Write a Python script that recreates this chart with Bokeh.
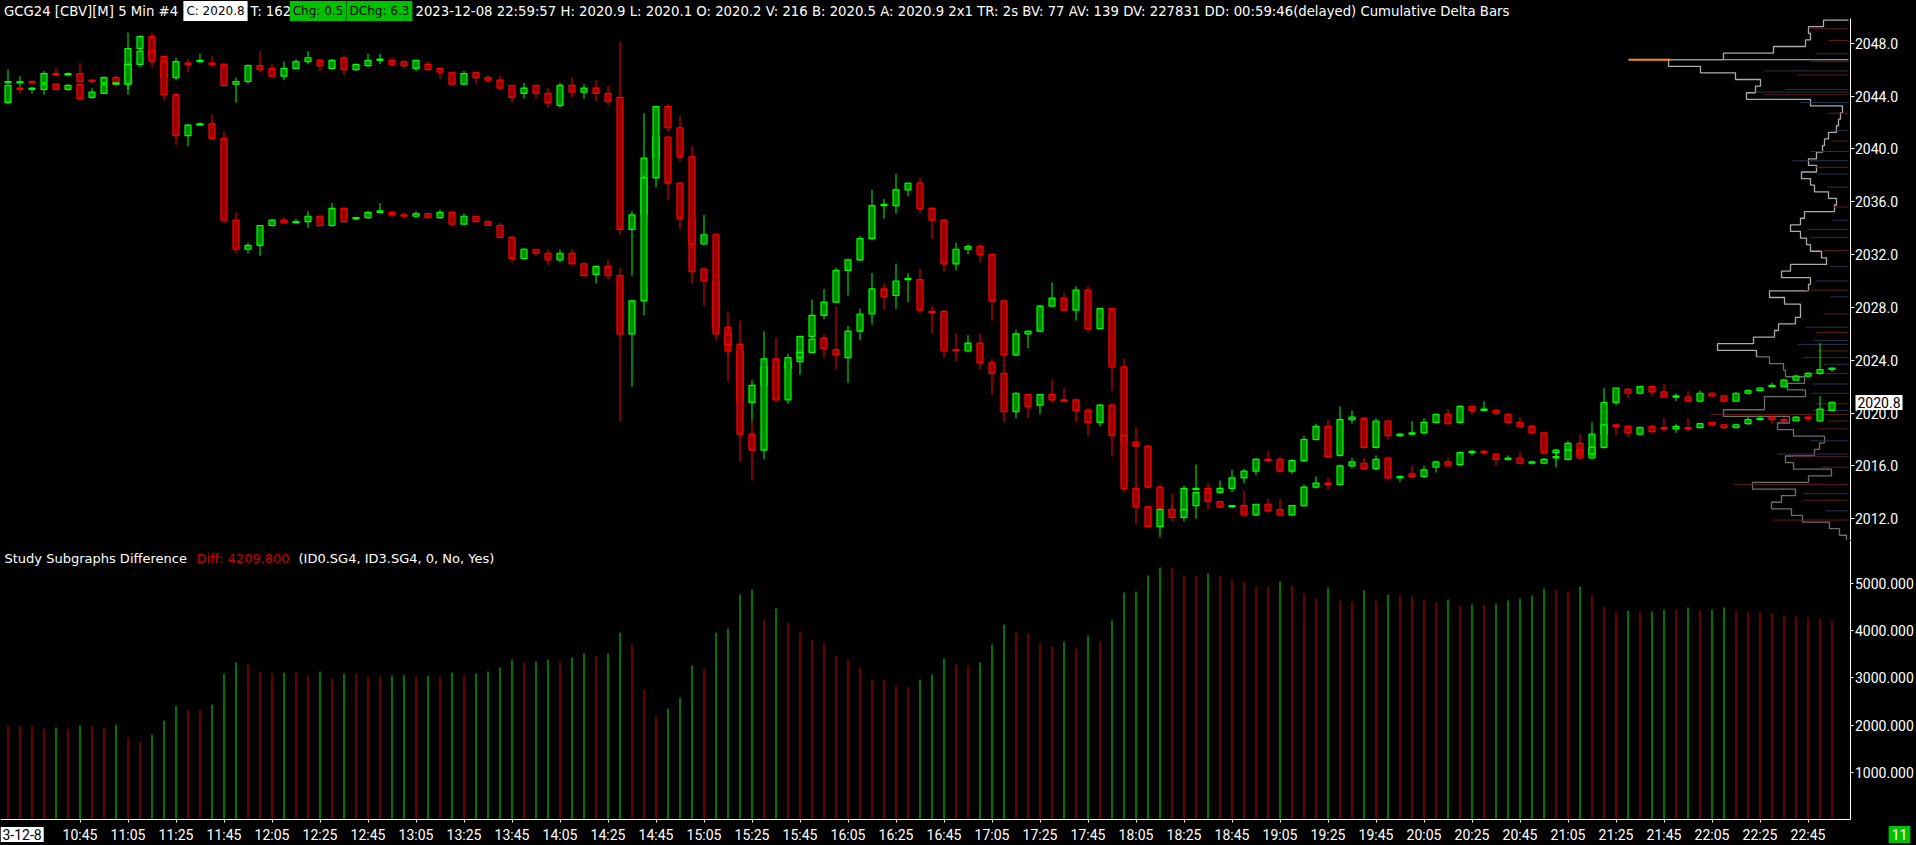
import numpy as np
from bokeh.plotting import figure
from bokeh.layouts import column
from bokeh.models import Range1d, FixedTicker, NumeralTickFormatter, Label, ColumnDataSource, LinearAxis
from bokeh.embed import file_html
from bokeh.resources import INLINE

# ---------------- data ----------------
# overlay candles (upper series)
ovl_open = [2045.0, 2045.0, 2045.1, 2045.0, 2045.7, 2045.6, 2045.7, 2045.2, 2045.0, 2045.4,
            2044.9, 2047.6, 2048.5, 2047.0, 2045.4, 2046.5, 2046.6, 2046.5, 2046.4, 2044.9,
            2045.1, 2046.3, 2046.1, 2045.5, 2046.1, 2046.6, 2046.7, 2046.1, 2046.9, 2046.0,
            2046.3, 2046.7, 2046.7, 2046.6, 2046.1, 2046.4, 2046.1, 2045.8, 2044.9, 2045.8,
            2045.4, 2045.2, 2044.8, 2044.2, 2044.8, 2044.2, 2043.3, 2044.8, 2044.3, 2044.6,
            2044.2, 2043.9, 2033.9, 2035.0, 2039.3, 2040.9, 2037.4, 2034.7, 2030.9, 2030.0,
            2026.5, 2024.7, 2020.8, 2022.1, 2023.5, 2023.4, 2023.9, 2025.8, 2027.4, 2028.4,
            2030.8, 2031.6, 2033.2, 2035.7, 2035.7, 2036.9, 2037.4, 2035.5, 2034.6, 2031.3,
            2032.4, 2032.6, 2032.0, 2028.5, 2024.4, 2026.0, 2026.2, 2028.1, 2028.7, 2027.8,
            2029.3, 2026.4, 2027.9, 2023.5, 2017.8, 2017.5, 2014.4, 2012.7, 2012.5, 2014.2,
            2014.3, 2014.0, 2014.3, 2015.1, 2015.6, 2016.5, 2016.5, 2015.6, 2016.4, 2018.0,
            2019.0, 2016.8, 2019.5, 2019.6, 2017.4, 2019.4, 2018.3, 2018.4, 2018.5, 2019.3,
            2019.9, 2019.3, 2020.5, 2020.2, 2020.2, 2019.9, 2019.3, 2019.0, 2018.5, 2017.0,
            2017.2, 2017.7, 2016.6, 2018.4, 2020.8, 2021.8, 2021.5, 2022.0, 2021.6, 2021.2,
            2021.2, 2020.9, 2021.5, 2021.3, 2020.9, 2021.5, 2021.7, 2022.0, 2022.0, 2022.5,
            2022.8, 2023.0, 2023.3]
ovl_high = [2046.0, 2045.5, 2045.2, 2045.9, 2046.1, 2045.8, 2046.5, 2045.3, 2045.5, 2045.6,
            2048.8, 2048.6, 2048.8, 2047.0, 2046.9, 2046.8, 2047.2, 2047.0, 2046.5, 2045.4,
            2046.4, 2047.4, 2046.4, 2046.6, 2046.8, 2047.4, 2046.8, 2046.8, 2047.1, 2046.4,
            2047.2, 2047.2, 2046.9, 2046.7, 2046.7, 2046.6, 2046.1, 2045.8, 2045.9, 2045.8,
            2045.6, 2045.5, 2044.8, 2045.0, 2044.8, 2044.6, 2045.0, 2045.4, 2044.9, 2045.2,
            2044.8, 2048.1, 2035.3, 2042.7, 2041.0, 2041.0, 2037.5, 2034.7, 2031.0, 2030.0,
            2026.6, 2024.8, 2022.5, 2023.5, 2023.9, 2023.9, 2025.8, 2028.6, 2029.4, 2031.0,
            2031.7, 2033.4, 2036.9, 2036.2, 2038.1, 2037.4, 2037.8, 2035.6, 2034.7, 2032.9,
            2032.8, 2032.8, 2032.1, 2028.5, 2026.3, 2026.2, 2028.2, 2029.9, 2029.1, 2029.6,
            2029.6, 2027.9, 2027.9, 2024.1, 2018.9, 2017.6, 2014.6, 2013.9, 2014.5, 2016.1,
            2014.7, 2014.9, 2015.7, 2015.8, 2016.6, 2017.1, 2016.7, 2016.5, 2018.3, 2019.2,
            2019.5, 2020.5, 2020.2, 2019.7, 2019.6, 2019.5, 2018.5, 2019.4, 2019.6, 2019.9,
            2020.3, 2020.6, 2020.5, 2020.9, 2020.3, 2020.0, 2019.7, 2019.1, 2018.6, 2017.3,
            2017.9, 2018.4, 2019.3, 2021.9, 2021.9, 2021.9, 2022.0, 2022.0, 2022.2, 2021.5,
            2021.7, 2021.7, 2021.6, 2021.3, 2021.6, 2021.8, 2022.0, 2022.3, 2022.6, 2022.9,
            2023.1, 2025.3, 2023.4]
ovl_low = [2044.9, 2044.7, 2044.9, 2044.9, 2045.5, 2045.5, 2045.0, 2044.9, 2045.0, 2044.7,
           2044.1, 2047.4, 2046.9, 2045.4, 2045.2, 2045.8, 2046.5, 2046.2, 2044.8, 2043.5,
           2044.9, 2045.8, 2045.5, 2045.2, 2046.1, 2046.4, 2045.9, 2046.0, 2045.6, 2045.9,
           2046.2, 2046.4, 2046.4, 2046.1, 2045.9, 2046.0, 2045.3, 2044.8, 2044.9, 2044.9,
           2045.0, 2044.6, 2043.5, 2043.8, 2043.8, 2043.1, 2043.1, 2043.9, 2043.8, 2043.6,
           2043.3, 2033.5, 2030.4, 2034.9, 2039.2, 2036.1, 2033.9, 2029.8, 2028.1, 2026.4,
           2022.4, 2020.5, 2019.4, 2022.0, 2023.0, 2023.3, 2022.9, 2025.7, 2027.1, 2028.3,
           2028.9, 2031.5, 2033.1, 2034.7, 2035.1, 2036.4, 2035.1, 2033.2, 2030.7, 2030.8,
           2032.0, 2031.4, 2027.0, 2022.3, 2024.3, 2024.9, 2026.1, 2028.1, 2027.7, 2027.0,
           2026.1, 2026.4, 2021.7, 2017.8, 2013.0, 2014.3, 2012.6, 2012.4, 2012.4, 2014.2,
           2013.9, 2013.9, 2014.0, 2014.7, 2015.3, 2016.3, 2015.5, 2015.4, 2016.3, 2017.9,
           2016.6, 2016.7, 2019.2, 2017.3, 2017.3, 2018.0, 2018.2, 2018.3, 2018.4, 2019.2,
           2019.1, 2019.2, 2019.9, 2020.2, 2019.8, 2019.3, 2019.0, 2018.5, 2016.9, 2016.5,
           2017.2, 2016.5, 2016.5, 2018.3, 2020.6, 2021.1, 2021.4, 2021.3, 2021.2, 2020.9,
           2020.8, 2020.8, 2021.2, 2020.8, 2020.9, 2021.4, 2021.7, 2022.0, 2022.0, 2022.5,
           2022.7, 2022.9, 2023.1]
ovl_close = [2045.1, 2045.1, 2045.0, 2045.7, 2045.6, 2045.7, 2045.1, 2045.1, 2045.4, 2044.9,
             2047.6, 2048.5, 2047.0, 2045.4, 2046.6, 2046.4, 2046.7, 2046.4, 2044.8, 2045.1,
             2046.3, 2046.0, 2045.5, 2046.1, 2046.6, 2046.9, 2046.3, 2046.7, 2046.0, 2046.4,
             2046.7, 2046.8, 2046.4, 2046.3, 2046.7, 2046.0, 2045.8, 2044.9, 2045.7, 2045.4,
             2045.2, 2044.6, 2043.9, 2044.6, 2044.2, 2043.5, 2044.8, 2044.3, 2044.6, 2044.2,
             2043.6, 2033.9, 2035.0, 2039.3, 2040.9, 2037.4, 2034.7, 2030.7, 2030.0, 2026.5,
             2024.7, 2020.8, 2022.1, 2023.5, 2023.4, 2023.9, 2025.8, 2027.4, 2028.4, 2030.8,
             2031.6, 2033.2, 2035.7, 2035.8, 2036.9, 2037.4, 2035.5, 2034.6, 2031.3, 2032.4,
             2032.6, 2032.0, 2028.5, 2024.4, 2026.0, 2026.2, 2028.1, 2028.7, 2027.8, 2029.3,
             2026.4, 2027.9, 2023.5, 2017.8, 2017.5, 2014.4, 2012.7, 2012.5, 2014.3, 2014.3,
             2014.0, 2014.3, 2015.1, 2015.6, 2016.5, 2016.4, 2015.6, 2016.4, 2018.0, 2019.0,
             2016.7, 2019.5, 2019.7, 2017.4, 2019.4, 2018.3, 2018.4, 2018.5, 2019.3, 2019.9,
             2019.2, 2020.5, 2020.2, 2020.3, 2020.0, 2019.3, 2019.0, 2018.5, 2017.0, 2017.2,
             2017.7, 2016.6, 2018.4, 2020.8, 2021.9, 2021.5, 2022.0, 2021.6, 2021.2, 2021.3,
             2020.9, 2021.5, 2021.3, 2020.9, 2021.5, 2021.7, 2021.9, 2022.1, 2022.5, 2022.8,
             2023.0, 2023.3, 2023.4]

# main GCG24 candles
main_open = [2043.5, 2044.6, 2044.5, 2044.5, 2044.9, 2044.5, 2044.9, 2043.9, 2044.2, 2044.9,
             2044.9, 2046.4, 2047.4, 2046.6, 2044.1, 2041.0, 2041.8, 2041.9, 2040.8, 2034.6,
             2032.4, 2032.7, 2034.2, 2034.6, 2034.4, 2034.5, 2034.9, 2034.2, 2035.5, 2034.7,
             2034.8, 2035.2, 2035.2, 2035.0, 2034.9, 2035.1, 2034.8, 2035.2, 2034.3, 2034.9,
             2034.5, 2034.2, 2033.3, 2031.7, 2032.4, 2032.1, 2031.6, 2032.1, 2031.3, 2030.5,
             2031.1, 2030.4, 2026.0, 2028.5, 2037.8, 2043.2, 2041.6, 2039.4, 2032.8, 2033.5,
             2026.0, 2025.2, 2018.4, 2017.2, 2024.1, 2021.0, 2024.2, 2024.6, 2025.7, 2024.8,
             2024.2, 2026.2, 2027.5, 2029.4, 2028.9, 2030.1, 2030.1, 2027.7, 2027.7, 2024.8,
             2024.7, 2025.3, 2023.8, 2023.0, 2020.1, 2021.4, 2020.6, 2021.4, 2021.0, 2021.0,
             2020.2, 2019.3, 2020.6, 2018.3, 2014.3, 2012.9, 2011.4, 2012.7, 2012.1, 2013.0,
             2014.0, 2013.3, 2012.9, 2013.0, 2012.3, 2013.1, 2012.7, 2012.3, 2013.0, 2014.4,
             2014.7, 2014.6, 2016.0, 2016.2, 2015.8, 2016.6, 2015.1, 2015.4, 2015.2, 2015.9,
             2016.3, 2016.1, 2017.0, 2017.1, 2016.9, 2016.5, 2016.6, 2016.2, 2016.2, 2016.6,
             2016.5, 2017.2, 2016.9, 2017.4, 2019.1, 2019.0, 2018.4, 2019.0, 2018.9, 2018.8,
             2018.9, 2018.9, 2019.3, 2019.1, 2018.9, 2019.2, 2019.5, 2019.7, 2019.5, 2019.4,
             2019.7, 2019.4, 2020.2]
main_high = [2044.8, 2044.7, 2044.7, 2045.0, 2044.9, 2044.9, 2044.9, 2044.6, 2045.0, 2045.0,
             2046.5, 2047.6, 2047.4, 2046.9, 2044.1, 2041.9, 2042.0, 2042.6, 2041.3, 2035.2,
             2032.9, 2034.2, 2034.7, 2034.8, 2034.7, 2035.3, 2035.0, 2035.9, 2035.6, 2034.8,
             2035.3, 2035.9, 2035.3, 2035.2, 2035.3, 2035.1, 2035.4, 2035.3, 2035.1, 2034.9,
             2034.6, 2034.4, 2033.4, 2032.5, 2032.4, 2032.4, 2032.4, 2032.4, 2031.4, 2031.1,
             2031.6, 2031.0, 2028.6, 2038.0, 2043.2, 2043.4, 2042.5, 2040.2, 2035.0, 2033.6,
             2027.7, 2027.0, 2019.4, 2026.2, 2025.7, 2024.5, 2024.7, 2025.7, 2026.0, 2028.1,
             2026.6, 2027.9, 2030.6, 2029.8, 2031.3, 2030.6, 2030.9, 2028.1, 2027.8, 2026.0,
             2025.9, 2026.0, 2024.1, 2023.0, 2021.6, 2021.4, 2021.4, 2022.5, 2021.9, 2021.1,
             2020.4, 2020.7, 2020.7, 2018.3, 2014.3, 2013.0, 2012.8, 2013.0, 2012.8, 2014.0,
             2014.0, 2013.3, 2013.0, 2014.1, 2013.1, 2013.5, 2013.5, 2013.0, 2014.6, 2015.2,
             2015.1, 2016.1, 2016.6, 2016.6, 2016.8, 2016.7, 2015.3, 2016.0, 2016.0, 2016.4,
             2016.6, 2017.1, 2017.2, 2017.2, 2017.0, 2016.8, 2017.1, 2016.4, 2016.6, 2017.0,
             2017.3, 2017.3, 2017.5, 2019.1, 2019.2, 2019.1, 2019.0, 2019.1, 2019.6, 2019.2,
             2019.6, 2019.2, 2019.3, 2019.2, 2019.2, 2019.7, 2019.8, 2019.8, 2019.7, 2019.8,
             2019.8, 2021.3, 2020.9]
main_low = [2043.4, 2044.2, 2044.2, 2044.1, 2044.4, 2044.4, 2043.7, 2043.8, 2044.2, 2044.9,
            2044.5, 2046.2, 2046.2, 2043.7, 2040.3, 2040.2, 2041.8, 2040.7, 2034.4, 2032.1,
            2032.1, 2031.9, 2034.1, 2034.4, 2034.4, 2034.0, 2034.1, 2034.1, 2034.5, 2034.6,
            2034.7, 2035.1, 2034.8, 2034.8, 2034.8, 2034.8, 2034.7, 2034.3, 2034.3, 2034.5,
            2034.2, 2033.3, 2031.4, 2031.6, 2031.9, 2031.2, 2031.4, 2031.3, 2030.4, 2029.8,
            2030.1, 2019.4, 2022.0, 2027.4, 2037.1, 2041.3, 2039.0, 2032.5, 2032.7, 2025.5,
            2024.4, 2016.3, 2014.9, 2016.5, 2020.9, 2020.7, 2024.0, 2024.6, 2024.2, 2023.3,
            2022.3, 2025.5, 2026.7, 2027.8, 2027.9, 2028.4, 2027.6, 2026.0, 2024.2, 2023.9,
            2024.6, 2023.3, 2021.4, 2019.3, 2019.6, 2019.6, 2019.9, 2020.8, 2020.8, 2019.3,
            2018.3, 2019.0, 2016.7, 2014.0, 2011.6, 2011.4, 2010.6, 2011.8, 2011.8, 2012.0,
            2012.7, 2012.8, 2012.9, 2012.1, 2012.2, 2012.5, 2012.2, 2012.2, 2012.9, 2014.3,
            2014.2, 2014.5, 2015.8, 2015.7, 2015.7, 2014.9, 2014.8, 2015.1, 2015.1, 2015.5,
            2016.0, 2016.0, 2016.8, 2016.8, 2016.0, 2016.4, 2016.1, 2016.1, 2016.1, 2015.9,
            2016.4, 2016.8, 2016.8, 2017.3, 2018.3, 2018.2, 2018.3, 2018.5, 2018.6, 2018.5,
            2018.6, 2018.9, 2019.0, 2018.8, 2018.9, 2019.1, 2019.5, 2019.2, 2019.3, 2019.4,
            2019.4, 2019.3, 2020.1]
main_close = [2044.8, 2044.5, 2044.6, 2044.9, 2044.5, 2044.8, 2043.8, 2044.3, 2044.9, 2045.0,
              2046.4, 2047.4, 2046.6, 2044.1, 2041.0, 2041.8, 2041.9, 2040.8, 2034.6, 2032.4,
              2032.7, 2034.2, 2034.6, 2034.4, 2034.5, 2034.9, 2034.2, 2035.5, 2034.5, 2034.8,
              2035.2, 2035.3, 2035.0, 2034.9, 2035.1, 2034.8, 2035.2, 2034.3, 2034.9, 2034.5,
              2034.2, 2033.3, 2031.7, 2032.4, 2032.1, 2031.6, 2032.1, 2031.3, 2030.4, 2031.1,
              2030.4, 2026.0, 2028.5, 2037.8, 2043.2, 2041.6, 2039.4, 2032.8, 2033.5, 2026.0,
              2025.2, 2018.4, 2017.2, 2024.1, 2021.0, 2024.2, 2024.6, 2025.6, 2024.9, 2024.4,
              2026.2, 2027.5, 2029.4, 2028.8, 2030.0, 2030.2, 2027.8, 2027.6, 2024.7, 2024.7,
              2025.3, 2023.8, 2023.0, 2020.1, 2021.5, 2020.5, 2021.4, 2021.0, 2020.9, 2020.2,
              2019.3, 2020.6, 2018.3, 2014.3, 2012.9, 2011.4, 2012.7, 2012.1, 2012.7, 2014.0,
              2013.3, 2012.9, 2013.0, 2012.3, 2013.1, 2012.6, 2012.3, 2013.0, 2014.4, 2014.7,
              2014.6, 2016.0, 2016.3, 2015.8, 2016.5, 2015.1, 2015.2, 2015.2, 2015.7, 2016.3,
              2016.0, 2017.0, 2017.1, 2017.0, 2016.5, 2016.6, 2016.2, 2016.3, 2016.5, 2016.7,
              2017.2, 2016.9, 2017.4, 2019.1, 2019.0, 2018.5, 2018.9, 2018.6, 2018.8, 2019.0,
              2018.8, 2019.2, 2019.1, 2018.9, 2019.1, 2019.5, 2019.6, 2019.5, 2019.4, 2019.7,
              2019.6, 2020.3, 2020.8]

# lower pane: Study Subgraphs Difference
diff_values = [1991, 1991, 1991, 1927, 1948, 1927, 1991, 1991, 1948, 2012,
               1736, 1651, 1800, 2097, 2415, 2330, 2330, 2437, 3095, 3329,
               3286, 3138, 3095, 3116, 3116, 3053, 3138, 2989, 3095, 3081,
               3031, 3031, 3053, 3060, 3031, 3053, 3031, 3116, 3053, 3095,
               3138, 3223, 3392, 3329, 3350, 3392, 3357, 3435, 3520, 3456,
               3520, 3966, 3711, 2755, 2182, 2352, 2585, 3265, 3201, 3966,
               4051, 4773, 4879, 4242, 4476, 4178, 3987, 3817, 3732, 3477,
               3392, 3223, 2968, 2968, 2840, 2805, 2968, 3074, 3414, 3307,
               3265, 3329, 3711, 4136, 3966, 3945, 3754, 3669, 3775, 3626,
               3902, 3775, 4221, 4816, 4837, 5177, 5347, 5340, 5177, 5170,
               5219, 5177, 5092, 5049, 4943, 4940, 5049, 4964, 4794, 4688,
               4922, 4646, 4624, 4858, 4646, 4773, 4752, 4731, 4667, 4603,
               4667, 4539, 4561, 4555, 4582, 4646, 4688, 4752, 4900, 4879,
               4837, 4943, 4752, 4518, 4391, 4433, 4391, 4412, 4454, 4450,
               4497, 4433, 4454, 4497, 4433, 4412, 4391, 4370, 4327, 4306,
               4285, 4263, 4209.8]

time_tick_labels = ["10:45", "11:05", "11:25", "11:45", "12:05", "12:25", "12:45", "13:05",
                    "13:25", "13:45", "14:05", "14:25", "14:45", "15:05", "15:25", "15:45",
                    "16:05", "16:25", "16:45", "17:05", "17:25", "17:45", "18:05", "18:25",
                    "18:45", "19:05", "19:25", "19:45", "20:05", "20:25", "20:45", "21:05",
                    "21:25", "21:45", "22:05", "22:25", "22:45"]
price_ticks = [2012.0, 2016.0, 2020.0, 2024.0, 2028.0, 2032.0, 2036.0, 2040.0, 2044.0, 2048.0]
diff_ticks = [1000, 2000, 3000, 4000, 5000]

# volume profile (price level, relative volume)
profile_prices = [2049.5, 2049.0, 2048.5, 2048.0, 2047.5, 2047.0, 2046.5, 2046.0, 2045.5, 2045.0,
                  2044.5, 2044.0, 2043.5, 2043.0, 2042.5, 2042.0, 2041.5, 2041.0, 2040.5, 2040.0,
                  2039.5, 2039.0, 2038.5, 2038.0, 2037.5, 2037.0, 2036.5, 2036.0, 2035.5, 2035.0,
                  2034.5, 2034.0, 2033.5, 2033.0, 2032.5, 2032.0, 2031.5, 2031.0, 2030.5, 2030.0,
                  2029.5, 2029.0, 2028.5, 2028.0, 2027.5, 2027.0, 2026.5, 2026.0, 2025.5, 2025.0,
                  2024.5, 2024.0, 2023.5, 2023.0, 2022.5, 2022.0, 2021.5, 2021.0, 2020.5, 2020.0,
                  2019.5, 2019.0, 2018.5, 2018.0, 2017.5, 2017.0, 2016.5, 2016.0, 2015.5, 2015.0,
                  2014.5, 2014.0, 2013.5, 2013.0, 2012.5, 2012.0, 2011.5, 2011.0, 2010.5]
profile_vol = [25, 40, 38, 43, 75, 125, 180, 148, 113, 88,
               93, 102, 38, 6, 8, 10, 12, 20, 24, 26,
               32, 40, 32, 47, 38, 34, 20, 12, 14, 44,
               48, 58, 48, 42, 38, 27, 22, 58, 67, 38,
               40, 79, 64, 48, 48, 53, 70, 74, 95, 131,
               92, 79, 65, 63, 44, 61, 43, 84, 84, 125,
               59, 71, 55, 24, 29, 34, 63, 55, 17, 40,
               96, 53, 67, 77, 57, 46, 19, 9, 2]
poc_price = 2046.75
poc_vol = 220
poc_mark_vol = 42

bidask_prices = [2049.1, 2048.2, 2047.2, 2046.6, 2045.9, 2045.6, 2044.5, 2044.3, 2044.1, 2043.5,
                 2042.7, 2041.4, 2040.6, 2039.8, 2039.1, 2038.6, 2038.1, 2037.1, 2035.6, 2034.6,
                 2033.9, 2033.3, 2032.3, 2031.1, 2030.0, 2029.3, 2028.8, 2027.5, 2026.5, 2026.1,
                 2025.5, 2025.2, 2024.7, 2024.2, 2023.7, 2023.0, 2022.2, 2021.5, 2020.7, 2020.2,
                 2019.9, 2019.4, 2018.8, 2017.9, 2016.9, 2016.7, 2015.9, 2014.6, 2013.9, 2013.4,
                 2012.6, 2011.9]
bidask_vol = [38, 20, 33, 38, 85, 51, 63, 93, 85, 48,
              21, 15, 16, 38, 56, 33, 31, 21, 15, 16,
              41, 38, 28, 18, 33, 43, 18, 25, 43, 33,
              35, 51, 31, 46, 25, 38, 36, 38, 33, 35,
              138, 21, 31, 38, 71, 56, 28, 115, 45, 45,
              23, 76]
bidask_side = ["s", "s", "b", "s", "b", "s", "b", "b", "s", "b",
               "s", "b", "s", "b", "b", "s", "b", "b", "s", "b",
               "s", "b", "s", "b", "b", "s", "b", "s", "b", "s",
               "b", "b", "s", "s", "b", "s", "b", "b", "s", "b",
               "s", "s", "s", "b", "b", "s", "s", "s", "b", "s",
               "b", "s"]

# ---------------- layout constants ----------------
W = 1916
BAR_PX = 12.0
X0 = -7.5 / BAR_PX
X1 = X0 + W / BAR_PX
X_AXIS = X0 + 1849.5 / BAR_PX
X_PROF = X0 + 1848.0 / BAR_PX

H1 = 540
P_TOP = 2051.232
P_BOT = 2010.354
P_AXIS_TOP = 2049.87

H2 = 305
V_TOP = 5919.3
V_BOT = -556.3

GREEN = "#00ff00"
GREEN_FILL = "#008c00"
RED = "#ff0000"
RED_FILL = "#960000"
WHITE = "#ffffff"


def sx(fx):
    return X0 + fx / BAR_PX


def sy1(fy):
    return P_TOP - fy * (P_TOP - P_BOT) / H1


def sy2(fy):
    return V_TOP - fy * (V_TOP - V_BOT) / H2


def style_axis(ax, fmt, size, tick_out, standoff):
    if fmt:
        ax.formatter = NumeralTickFormatter(format=fmt)
    ax.axis_line_color = WHITE
    ax.major_tick_line_color = WHITE
    ax.major_tick_out = tick_out
    ax.major_tick_in = 0
    ax.minor_tick_line_color = None
    ax.major_label_text_color = WHITE
    ax.major_label_text_font = "Roboto"
    ax.major_label_text_font_size = size
    ax.major_label_standoff = standoff


xr = Range1d(X0, X1)

# ---------------- price pane ----------------
p1 = figure(width=W, height=H1, x_range=xr, y_range=Range1d(P_BOT, P_TOP),
            output_backend="svg", toolbar_location=None, x_axis_location=None,
            y_axis_location=None, min_border_left=0, min_border_right=0,
            min_border_top=0, min_border_bottom=0, background_fill_color="black",
            border_fill_color="black", outline_line_color=None)
p1.grid.grid_line_color = None
ya = LinearAxis(fixed_location=X_AXIS, ticker=FixedTicker(ticks=price_ticks, minor_ticks=[]),
                bounds=(P_BOT, P_AXIS_TOP))
style_axis(ya, "0.0", "14px", 4, 1)
p1.add_layout(ya, "right")

# volume profile outline
pts_x = [X_PROF]
pts_y = [profile_prices[0] + 0.25]
for pr, v in zip(profile_prices, profile_vol):
    xl = X_PROF - v / BAR_PX
    pts_x += [xl, xl]
    pts_y += [pr + 0.25, pr - 0.25]
pts_x.append(X_PROF)
pts_y.append(profile_prices[-1] - 0.25)
split = 1 + 2 * profile_prices.index(2024.0)
p1.line(pts_x[:split], pts_y[:split], line_color="#ababab", line_width=1.3)
p1.line(pts_x[split - 1:], pts_y[split - 1:], line_color="#6e6e6e", line_width=1.3)

# bid/ask thin lines
ba_col = ["#5e1c1c" if s == "s" else "#26354f" for s in bidask_side]
p1.segment(x0=[X_PROF - v / BAR_PX for v in bidask_vol], y0=bidask_prices,
           x1=[X_PROF] * len(bidask_vol), y1=bidask_prices, line_color=ba_col, line_width=1)

# point of control
p1.segment(x0=[X_PROF - poc_vol / BAR_PX], y0=[poc_price],
           x1=[X_PROF - (poc_vol - poc_mark_vol) / BAR_PX], y1=[poc_price],
           line_color="#ff8c1a", line_width=2)
p1.segment(x0=[X_PROF - (poc_vol - poc_mark_vol) / BAR_PX], y0=[poc_price],
           x1=[X_PROF], y1=[poc_price], line_color="#9a9a9a", line_width=1.3)


def draw_candles(p, o, h, l, c):
    o = np.array(o); h = np.array(h); l = np.array(l); c = np.array(c)
    x = np.arange(len(o))
    up = c >= o
    src = ColumnDataSource(dict(
        x=x, h=h, l=l, top=np.maximum(o, c), bot=np.minimum(o, c),
        edge=np.where(up, GREEN, RED), fill=np.where(up, GREEN_FILL, RED_FILL)))
    p.segment(x0="x", y0="l", x1="x", y1="h", line_color="edge", line_width=1, source=src)
    p.vbar(x="x", width=0.5, top="top", bottom="bot", fill_color="fill",
           line_color="edge", line_width=1.2, source=src)


draw_candles(p1, ovl_open, ovl_high, ovl_low, ovl_close)
draw_candles(p1, main_open, main_high, main_low, main_close)

# current price marker
p1.add_layout(Label(x=sx(1855), y=main_close[-1], text="2020.8", text_color="black",
                    text_font="Roboto", text_font_size="14px", text_baseline="middle",
                    background_fill_color=WHITE, padding=2))

# header
HF = "DejaVu Sans"
HY = sy1(10.5)


def hlabel(fx, text, color=WHITE, bg=None, size="13.25px", align="left"):
    kw = dict(x=sx(fx), y=HY, text=text, text_color=color, text_font=HF,
              text_font_size=size, text_baseline="middle", text_align=align)
    if bg is not None:
        kw.update(background_fill_color=bg, padding=3)
    p1.add_layout(Label(**kw))


hlabel(3.5, "GCG24 [CBV][M]  5 Min  #4")
hlabel(215, "C: 2020.8", color="black", bg=WHITE, size="12px", align="center")
hlabel(250, "T: 162")
hlabel(317.5, "Chg: 0.5", color="black", bg="#00c000", size="12px", align="center")
hlabel(379, "DChg: 6.3", color="black", bg="#00c000", size="12px", align="center")
hlabel(415, "2023-12-08 22:59:57 H: 2020.9 L: 2020.1 O: 2020.2 V: 216 B: 2020.5 "
            "A: 2020.9 2x1 TR: 2s BV: 77 AV: 139 DV: 227831 DD: 00:59:46(delayed) "
            "Cumulative Delta Bars")

# ---------------- lower pane ----------------
p2 = figure(width=W, height=H2, x_range=xr, y_range=Range1d(V_BOT, V_TOP),
            output_backend="svg", toolbar_location=None, x_axis_location=None,
            y_axis_location=None, min_border_left=0, min_border_right=0,
            min_border_top=0, min_border_bottom=0, background_fill_color="black",
            border_fill_color="black", outline_line_color=None)
p2.grid.grid_line_color = None

dv = np.array(diff_values, dtype=float)
bar_col = ["#d00000"] + [("#00e600" if dv[i] > dv[i - 1] else "#d00000") for i in range(1, len(dv))]
xb = np.arange(len(dv))
p2.segment(x0=xb, y0=np.zeros(len(dv)), x1=xb, y1=dv, line_color=bar_col, line_width=1)

ya2 = LinearAxis(fixed_location=X_AXIS, ticker=FixedTicker(ticks=diff_ticks, minor_ticks=[]),
                 bounds=(0, V_TOP))
style_axis(ya2, "0.000", "14px", 3, 2)
p2.add_layout(ya2, "right")

tick_pos = [6 + 4 * i for i in range(len(time_tick_labels))]
xa = LinearAxis(fixed_location=0, ticker=FixedTicker(ticks=tick_pos, minor_ticks=[]),
                bounds=(X0, X_AXIS))
style_axis(xa, None, "14px", 3, 5)
xa.major_label_overrides = {t: lab for t, lab in zip(tick_pos, time_tick_labels)}
p2.add_layout(xa, "below")

TY = sy2(18)
p2.add_layout(Label(x=sx(4), y=TY, text="Study Subgraphs Difference", text_color=WHITE,
                    text_font=HF, text_font_size="13px", text_baseline="middle"))
p2.add_layout(Label(x=sx(196), y=TY, text="Diff: 4209.800", text_color="#d00000",
                    text_font=HF, text_font_size="13px", text_baseline="middle"))
p2.add_layout(Label(x=sx(298), y=TY, text="(ID0.SG4, ID3.SG4, 0, No, Yes)", text_color=WHITE,
                    text_font=HF, text_font_size="13px", text_baseline="middle"))

p2.add_layout(Label(x=sx(0), y=sy2(294), text="3-12-8", text_color="black",
                    text_font="Roboto", text_font_size="14px", text_baseline="middle",
                    background_fill_color=WHITE, padding=2))
p2.add_layout(Label(x=sx(1899), y=sy2(294), text="11", text_color=WHITE,
                    text_font="Roboto", text_font_size="14px", text_baseline="middle",
                    text_align="center", background_fill_color="#00c000", padding=3))

layout = column(p1, p2, spacing=0, styles={"background-color": "black"})
open("out.html", "w").write(file_html(layout, INLINE))
